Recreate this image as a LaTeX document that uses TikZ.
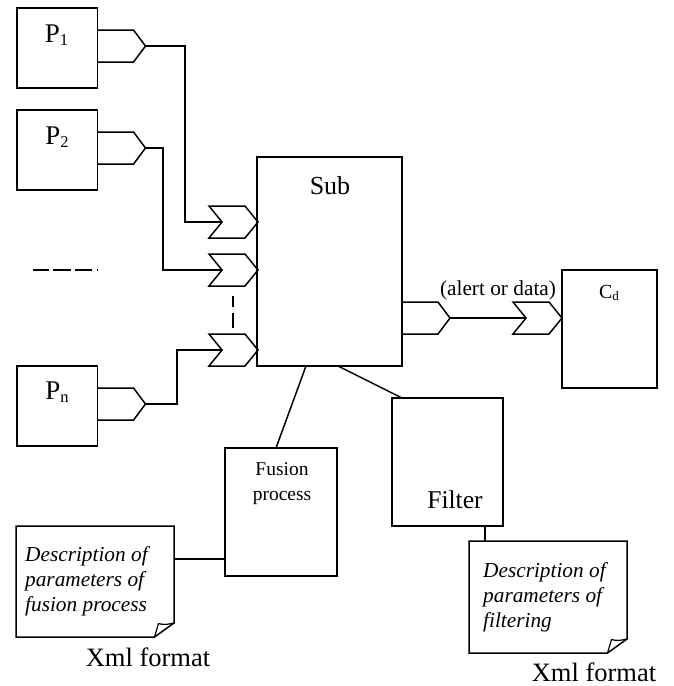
\documentclass[tikz,border=0pt]{standalone}
\usepackage{fontspec}
\setmainfont{Liberation Serif}
\tikzset{
 every picture/.style={x=1pt,y=-1pt},
 ln/.style={draw=black,line width=1.5pt,line join=miter},
 box/.style={ln,fill=white,rectangle,inner sep=0pt,outer sep=0pt,anchor=north west},
 lbl/.style={inner sep=0pt,font=\fontsize{17}{20}\selectfont},
 doctext/.style={inner sep=0pt,align=left,anchor=north west,font=\fontsize{21.3}{25}\selectfont\itshape},
}
\newcommand{\boxat}[5]{\node[box,minimum width=#4pt,minimum height=#5pt] (#1) at (#2,#3) {};}
\newcommand{\outport}[3]{% name, x of base, y centre
  \draw[ln] (#2,#3-16) -- ++(36,0) -- ++(12,16) -- ++(-12,16) -- ++(-36,0);
  \coordinate (#1) at (#2+48,#3);}
\newcommand{\inport}[3]{% name, x of left, y centre
  \draw[ln] (#2+49,#3) -- ++(-13,-16) -- ++(-36,0) -- ++(13,16) -- ++(-13,16) -- ++(36,0) -- cycle;
  \coordinate (#1) at (#2+13,#3);}
\newcommand{\docshape}[5]{% name, x1, y1, x2, y2
  \draw[ln] (#2,#3) -- (#4,#3) -- (#4,#5-14) -- (#4-19.5,#5) -- (#2,#5) -- cycle;
  \draw[line width=1.2pt] (#4-19.5,#5) -- (#4-15.5,#5-13.5) .. controls (#4-11,#5-12) and (#4-6,#5-12.5) .. (#4,#5-14);
}
\begin{document}
\begin{tikzpicture}
\useasboundingbox (0,0) rectangle (674,686);
% sources
\boxat{pa}{17}{8}{80.5}{80}
\boxat{pb}{17}{110}{80.5}{80}
\boxat{pn}{17}{366}{80.5}{80}
\boxat{sub}{257}{157}{145}{209}
\boxat{cd}{562}{270}{95}{118}
\boxat{fusion}{225}{448}{112}{128}
\boxat{filter}{392}{398}{111}{128}
% ports
\outport{oa}{97.5}{46}
\outport{ob}{97.5}{148}
\outport{on}{97.5}{404}
\inport{ia}{209}{222}
\inport{ib}{209}{270}
\inport{in}{209}{350}
\outport{os}{402}{318}
\inport{ic}{513}{318}
% links
\draw[ln] (oa) -| (185,222) -- (ia);
\draw[ln] (ob) -| (163,270) -- (ib);
\draw[ln] (on) -| (177,350) -- (in);
\draw[ln] (os) -- (ic);
% ellipses
\draw[ln] (33,270) -- (49,270) (53,270) -- (71,270) (75,270) -- (92,270) (96.5,270) -- (98,270);
\draw[ln] (233,296) -- (233,307) (233,313) -- (233,328);
% documents
\docshape{da}{16}{526}{174}{637}
\docshape{db}{469}{541}{627}{653}
\coordinate (dae) at (174,559);
\coordinate (dbn) at (485,541);
\coordinate (ff) at (485,526);
\coordinate (sa) at (306,366);
\coordinate (fa) at (276,448);
\coordinate (sb) at (338,366);
\coordinate (fb) at (402,398);
\coordinate (fw) at (225,559);
\draw[ln] (dae) -- (fw);
\draw[ln] (ff) -- (dbn);
\draw[ln] (sa) -- (fa);
\draw[ln] (sb) -- (fb);
% labels
\node[lbl] (t1) at (56.5,35) {\fontsize{27}{30}\selectfont P\raisebox{-3pt}{\fontsize{16.5}{18}\selectfont 1}};
\node[lbl] (t2) at (57,137) {\fontsize{27}{30}\selectfont P\raisebox{-3pt}{\fontsize{16.5}{18}\selectfont 2}};
\node[lbl] (t3) at (57,392) {\fontsize{27}{30}\selectfont P\raisebox{-3pt}{\fontsize{16.5}{18}\selectfont n}};
\node[lbl] (t4) at (330,186) {\fontsize{26}{28}\selectfont Sub};
\node[lbl] (t5) at (609,293) {\fontsize{20}{24}\selectfont C\raisebox{-2.5pt}{\fontsize{13}{16}\selectfont d}};
\node[lbl] (t6) at (498,290) {\fontsize{21.3}{24}\selectfont (alert or data)};
\node[lbl,align=center,font=\fontsize{19.5}{25}\selectfont] (t7) at (282,484) {Fusion\\process};
\node[lbl] (t8) at (455,500) {\fontsize{25.6}{28}\selectfont Filter};
\node[doctext] (t9) at (25,546) {Description of\\parameters of\\fusion process};
\node[doctext] (t10) at (483,562) {Description of\\parameters of\\filtering};
\node[lbl] (t11) at (148,657) {\fontsize{26.5}{30}\selectfont Xml format};
\node[lbl] (t12) at (594,672) {\fontsize{26.5}{28}\selectfont Xml format};
\end{tikzpicture}
\end{document}
